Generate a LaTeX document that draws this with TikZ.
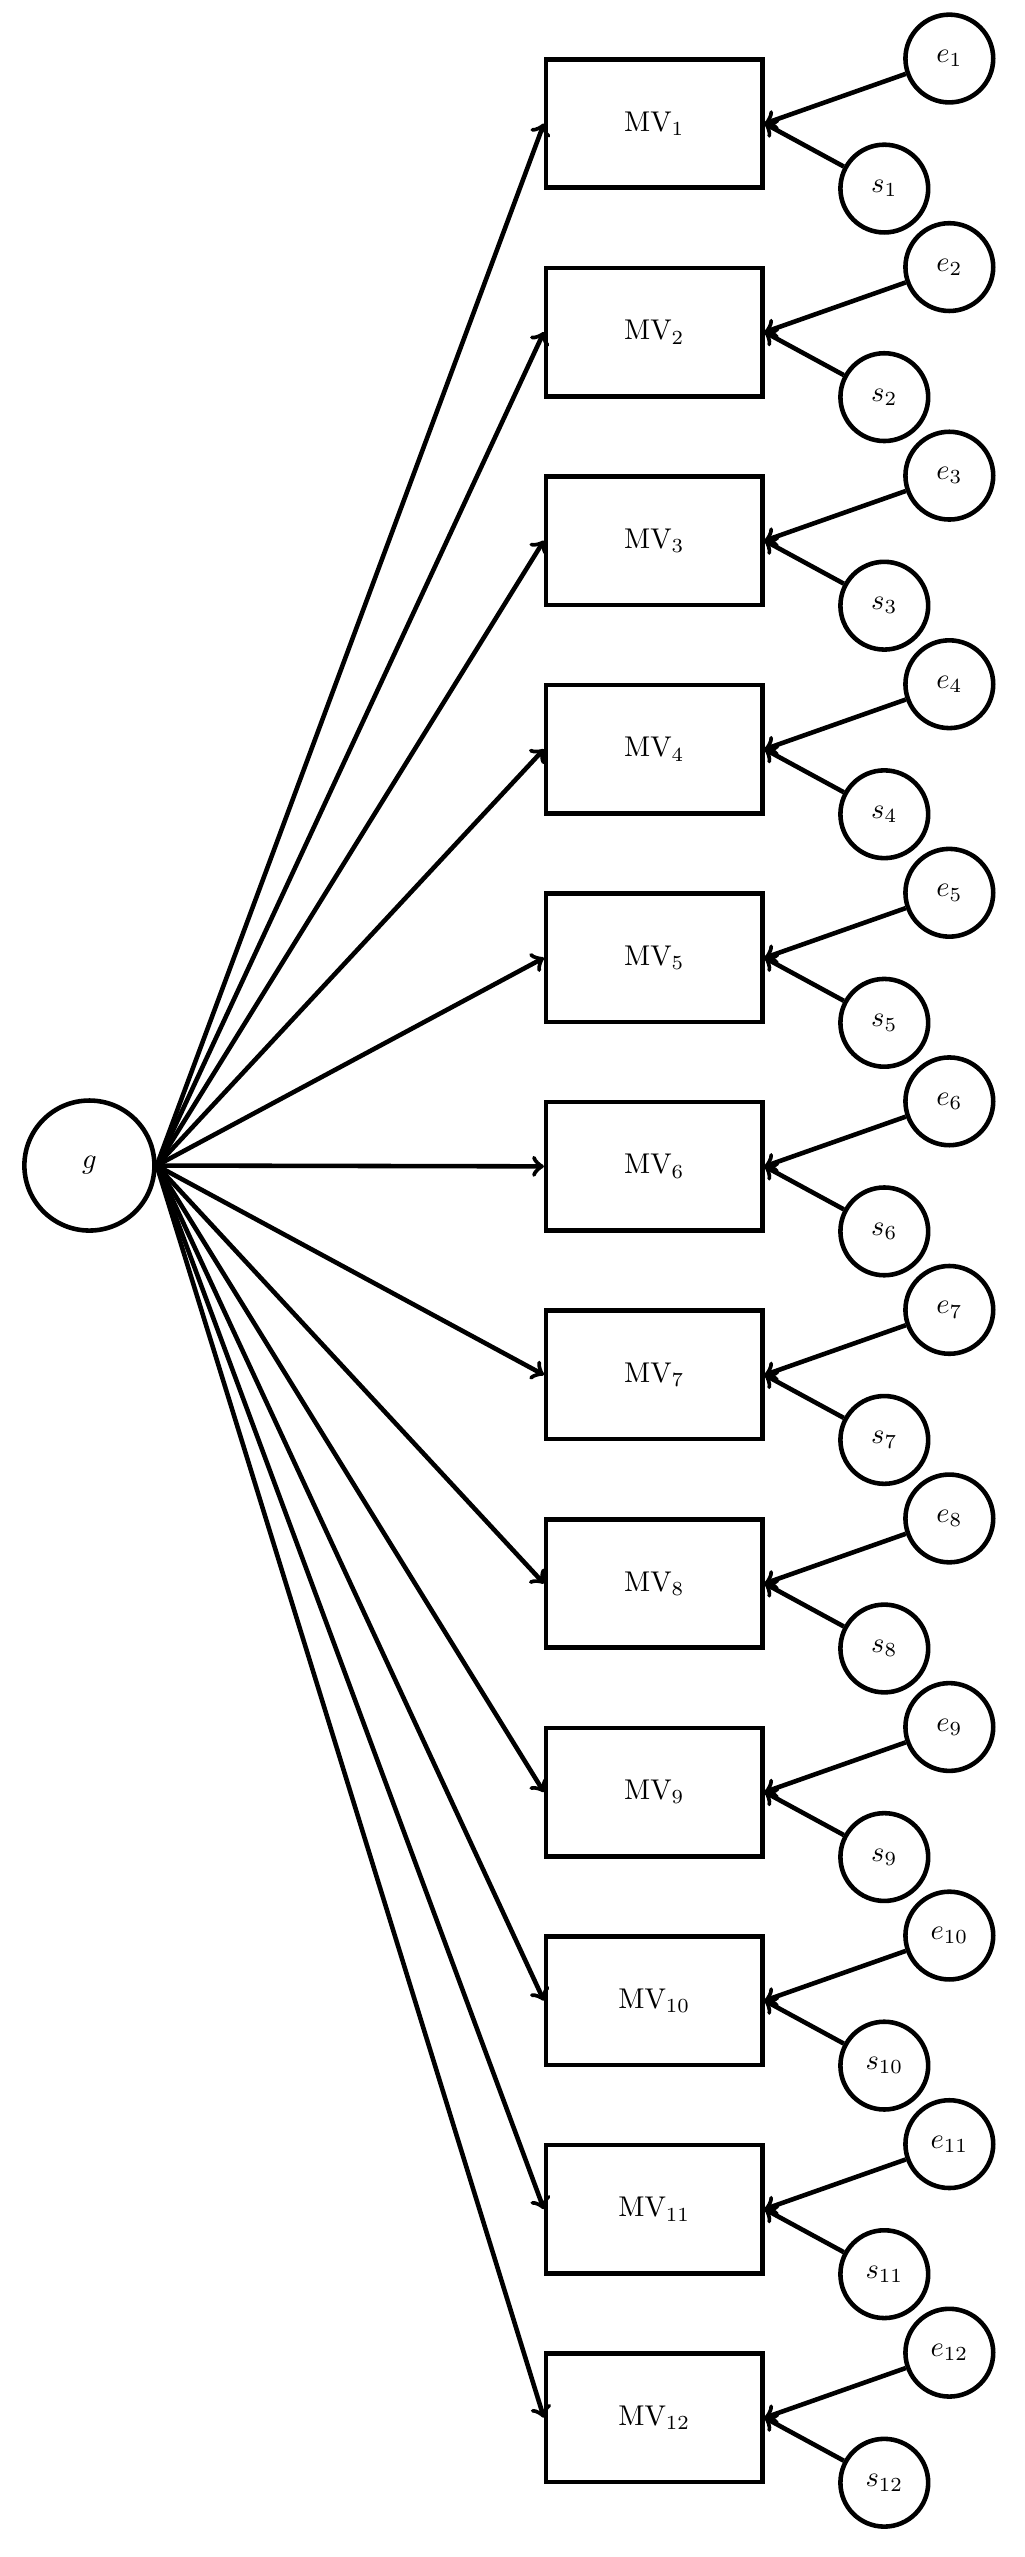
\documentclass[tikz,border=0pt]{standalone}
\usetikzlibrary{calc}
\newlength{\du}
\setlength{\du}{0.02cm}
\tikzset{
  latent/.style={draw,circle,line width=1.6pt,minimum size=54\du,inner sep=0pt},
  manifest/.style={draw,rectangle,line width=1.6pt,minimum width=133\du,minimum height=79\du,inner sep=0pt},
  path/.style={->,line width=1.6pt},
}
\begin{document}
\begin{tikzpicture}[x=\du,y=-\du]
\useasboundingbox (0,0) rectangle (630,1573);
% common factor
\node[latent,minimum size=80\du] (g) at (55,717) {$g$};
% indicators, errors and specifics
\foreach \i in {1,...,12}{
  \pgfmathsetmacro{\yy}{76+128.3*(\i-1)}
  \node[manifest] (mv\i) at (402.5,\yy) {MV$_{\i}$};
  \node[latent] (e\i) at (584,\yy-40) {$e_{\i}$};
  \node[latent] (s\i) at (544,\yy+40) {$s_{\i}$};
  \draw[path] (g.east) -- (mv\i.west);
  \draw[path] (e\i) -- (mv\i.east);
  \draw[path] (s\i) -- (mv\i.east);
}
\end{tikzpicture}
\end{document}
